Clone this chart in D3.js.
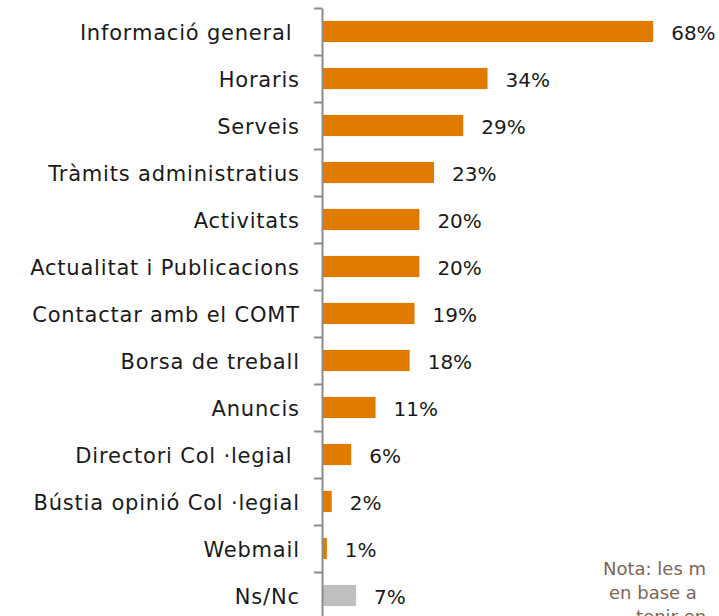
<!DOCTYPE html>
<html>
<head>
<meta charset="utf-8">
<script src="https://cdn.jsdelivr.net/npm/d3@7"></script>
<style>
  body { margin: 0; background: #fff; }
  text { font-family: "DejaVu Sans", sans-serif; }
</style>
</head>
<body>
<div id="chart"></div>
<script>
const categories = [
  "Informació general\u00a0",
  "Horaris",
  "Serveis",
  "Tràmits administratius",
  "Activitats",
  "Actualitat i Publicacions",
  "Contactar amb el COMT",
  "Borsa de treball",
  "Anuncis",
  "Directori Col ·legial\u00a0",
  "Bústia opinió Col ·legial",
  "Webmail",
  "Ns/Nc"
];
const values = [68, 34, 29, 23, 20, 20, 19, 18, 11, 6, 2, 1, 7];
const noteLines = ["Nota: les m", "en base a", "tenir en"];

const COLORS = { bar: "#e07b00", nsnc: "#bfbfbf", text: "#1a1a1a", axis: "#8c8c8c", note: "#7b6657" };

const width = 719;
const height = 616;
const axisX = 322;
const plotTop = 8;
const step = 47;

const svg = d3.select("#chart")
  .append("svg")
  .attr("width", width)
  .attr("height", height);

const y = d3.scaleBand()
  .domain(categories)
  .range([plotTop, plotTop + step * categories.length])
  .paddingInner(0.55)
  .paddingOuter(0.275);

const x = d3.scaleLinear()
  .domain([0, 100])
  .range([axisX, axisX + 487]);

// —— Bars ——
svg.selectAll(".bar")
  .data(categories)
  .join("rect")
  .attr("class", "bar")
  .attr("x", x(0))
  .attr("y", (d) => y(d))
  .attr("width", (d, i) => x(values[i]) - x(0))
  .attr("height", y.bandwidth())
  .attr("fill", (d, i) => (i === categories.length - 1 ? COLORS.nsnc : COLORS.bar));

// —— Value labels ——
svg.selectAll(".value")
  .data(categories)
  .join("text")
  .attr("class", "value")
  .attr("x", (d, i) => x(values[i]) + 18)
  .attr("y", (d) => y(d) + y.bandwidth() / 2)
  .attr("dy", "0.42em")
  .attr("font-size", 20)
  .attr("fill", COLORS.text)
  .text((d, i) => `${values[i]}%`);

// —— Axis: labels at band centres, ticks at band edges ——
const labelAxis = svg.append("g")
  .attr("transform", `translate(${axisX},0)`)
  .call(d3.axisLeft(y).tickSize(0).tickPadding(22.2));
labelAxis.select(".domain").remove();
labelAxis.selectAll("text")
  .attr("dy", "0.4em")
  .attr("font-size", 21)
  .attr("font-family", "DejaVu Sans, sans-serif")
  .attr("letter-spacing", "0.8px")
  .attr("fill", COLORS.text);

const edges = d3.scaleLinear()
  .domain([0, categories.length])
  .range([plotTop, plotTop + step * categories.length]);

const tickAxis = svg.append("g")
  .attr("transform", `translate(${axisX},0)`)
  .call(d3.axisLeft(edges).tickValues(d3.range(0, categories.length + 1)).tickSize(8).tickSizeOuter(0).tickFormat(""));
tickAxis.select(".domain").attr("stroke", COLORS.axis).attr("stroke-width", 2);
tickAxis.selectAll(".tick line").attr("stroke", COLORS.axis).attr("stroke-width", 2);

// —— Note (cropped at the right edge) ——
const noteX = [603, 609, 636];
svg.selectAll(".note")
  .data(noteLines)
  .join("text")
  .attr("class", "note")
  .attr("x", (d, i) => noteX[i])
  .attr("y", (d, i) => 575 + i * 24)
  .attr("font-size", 18)
  .attr("fill", COLORS.note)
  .text((d) => d);
</script>
</body>
</html>
